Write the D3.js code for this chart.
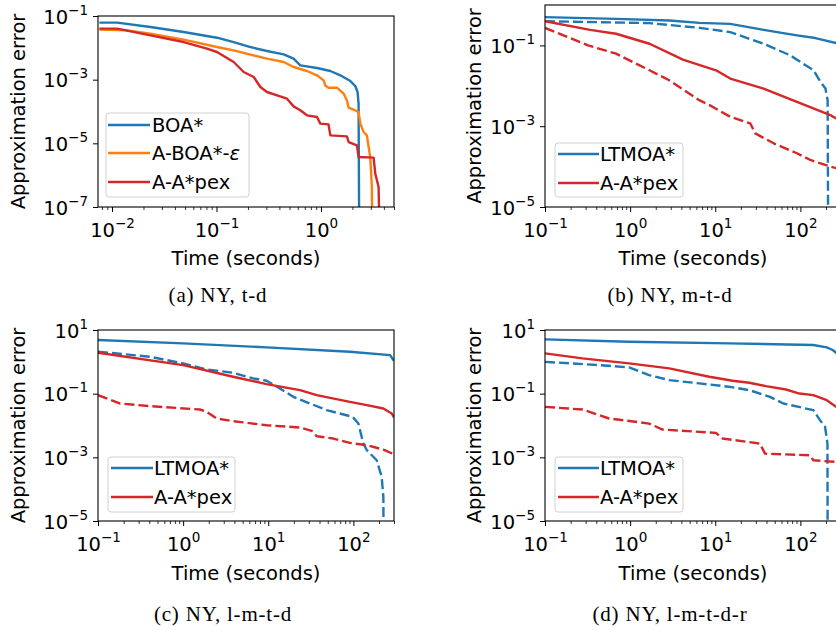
<!DOCTYPE html>
<html>
<head>
<meta charset="utf-8">
<script src="https://cdn.jsdelivr.net/npm/d3@7"></script>
<style>
  body { margin: 0; background: #fff; }
  svg text { font-family: "DejaVu Sans", sans-serif; }
  svg text.caption { font-family: "Liberation Serif", serif; }
</style>
</head>
<body>
<svg width="836" height="631"></svg>
<script>
// values: [time (s), approximation error]
// 1e-9 stands for "error reached zero" (the curve drops out of the plot)

// (a) NY, t-d
const tdBOA = [[0.00757,0.0618],[0.0112,0.0618],[0.0233,0.0451],[0.0485,0.0314],[0.101,0.0208],[0.146,0.0152],[0.211,0.0106],[0.304,0.00796],[0.44,0.00625],[0.547,0.00457],[0.634,0.00282],[0.916,0.00233],[1.23,0.00187],[1.53,0.00137],[1.91,0.00091],[2.13,0.00063],[2.24,0.00041],[2.29,0.000178],[2.33,1e-9]];
const tdABOAeps = [[0.00757,0.0372],[0.0139,0.0355],[0.0233,0.0279],[0.0485,0.0181],[0.101,0.0106],[0.146,0.00834],[0.211,0.0061],[0.304,0.00457],[0.44,0.00359],[0.547,0.0025],[0.734,0.00187],[0.916,0.00137],[1.06,0.00095],[1.10,0.00066],[1.18,0.00056],[1.42,0.00056],[1.65,0.000363],[1.77,0.000224],[1.84,0.000132],[2.05,0.000114],[2.29,0.0000964],[2.38,0.0000415],[2.56,0.0000227],[2.75,0.0000178],[2.86,7.7e-6],[2.96,3.7e-6],[3.07,4.3e-7],[3.12,1e-9]];
const tdAApex = [[0.00757,0.04],[0.0112,0.04],[0.0233,0.0247],[0.0485,0.0152],[0.0811,0.00942],[0.101,0.0074],[0.146,0.00359],[0.182,0.00174],[0.227,0.00121],[0.263,0.000589],[0.304,0.00041],[0.38,0.000322],[0.473,0.000253],[0.547,0.000145],[0.634,0.000109],[0.734,0.0000759],[0.916,0.0000672],[0.986,0.0000415],[1.18,0.0000395],[1.23,0.0000178],[1.77,0.0000166],[1.84,0.000011],[2.21,8.65e-6],[2.29,3.72e-6],[3.19,3.55e-6],[3.31,1.11e-6],[3.56,4.3e-7],[3.70,1e-9]];

// (b) NY, m-t-d  (solid and dashed runs)
const mtdLTMOA = [[0.1,0.5],[0.684,0.454],[2.9,0.413],[6.55,0.362],[15,0.342],[37,0.243],[91,0.177],[150,0.152],[263,0.114],[300,0.107]];
const mtdLTMOAdash = [[0.1,0.398],[1.69,0.356],[6.55,0.272],[15,0.213],[37,0.11],[76,0.0566],[143,0.0242],[172,0.0125],[197,0.00855],[209,0.0044],[215,1e-9]];
const mtdAApex = [[0.1,0.398],[0.339,0.243],[0.684,0.194],[1.69,0.11],[4.17,0.0444],[10.2,0.0242],[15,0.0151],[37,0.00855],[91,0.004],[225,0.00188],[263,0.00156],[300,0.0015]];
const mtdAApexDash = [[0.1,0.272],[0.32,0.1],[0.684,0.0624],[1.69,0.0242],[2.88,0.0137],[6.49,0.0044],[8.57,0.00332],[15,0.00171],[25.8,0.00117],[29.5,0.000665],[48.6,0.000377],[91,0.000214],[131,0.000146],[225,0.0001],[263,0.0000912],[300,0.000088]];

// (c) NY, l-m-t-d
const lmtdLTMOA = [[0.1,4.84],[1.0,3.8],[9.55,2.85],[91,2.08],[270,1.63],[295,1.14],[300,1.1]];
const lmtdLTMOAdash = [[0.1,2.08],[0.405,1.45],[1.0,0.893],[1.88,0.578],[3.87,0.454],[6.66,0.301],[9.55,0.254],[13.7,0.146],[19.7,0.0797],[30.9,0.0492],[48.5,0.0303],[97.8,0.0187],[114.5,0.0115],[131,0.0027],[144,0.00167],[188,0.00081],[215,0.000242],[225,0.0000566],[229,1e-9]];
const lmtdAApex = [[0.1,1.93],[1.0,0.79],[3.87,0.34],[9.55,0.2],[23.6,0.129],[37.1,0.09],[91,0.0555],[144,0.0436],[225,0.0342],[282,0.0238],[300,0.0178]];
const lmtdAApexDash = [[0.1,0.09],[0.18,0.0492],[0.405,0.0406],[1.57,0.0318],[1.88,0.0269],[2.47,0.0166],[3.87,0.0137],[9.55,0.0102],[23.6,0.00863],[32.4,0.00677],[37.1,0.0046],[58.2,0.00389],[91,0.00284],[144,0.0024],[225,0.00175],[300,0.00125]];

// (d) NY, l-m-t-d-r
const lmtdrLTMOA = [[0.1,5.08],[0.973,4.29],[14.9,3.8],[142,3.37],[204,2.85],[240,2.35],[263,1.93],[300,1.3]];
const lmtdrLTMOAdash = [[0.1,1.0],[0.431,0.79],[0.973,0.668],[1.67,0.383],[2.88,0.267],[6.49,0.21],[14.9,0.164],[25.1,0.129],[44,0.0797],[63,0.0492],[142,0.0303],[170,0.0147],[195,0.0091],[208,0.0027],[210,1e-9]];
const lmtdrAApex = [[0.1,1.84],[0.275,1.28],[0.973,0.894],[2.88,0.621],[8.5,0.34],[16,0.254],[25.1,0.22],[39.4,0.173],[67.8,0.135],[97.3,0.101],[142,0.09],[204,0.0625],[263,0.0386],[300,0.03]];
const lmtdrAApexDash = [[0.1,0.0386],[0.275,0.0318],[0.431,0.0211],[0.566,0.0166],[1.67,0.0115],[2.4,0.00746],[10.2,0.00586],[12.2,0.00389],[33.5,0.0027],[38.4,0.00131],[130,0.00116],[142,0.00081],[263,0.000716],[300,0.0007]];

// axis ticks and labels
const xTicksA = [0.01, 0.1, 1];
const xTicksBCD = [0.1, 1, 10, 100];
const yTicksA = [1e-7, 1e-5, 1e-3, 1e-1];
const yTicksB = [1e-5, 1e-3, 1e-1];
const yTicksCD = [1e-5, 1e-3, 1e-1, 10];
const xLabel = 'Time (seconds)';
const yLabel = 'Approximation error';
const captions = ['(a) NY, t-d', '(b) NY, m-t-d', '(c) NY, l-m-t-d', '(d) NY, l-m-t-d-r'];

const blue = '#1f77b4', orange = '#ff7f0e', red = '#d62728';

const panels = [
  { id: 'a', left: 98, top: 16, w: 296, h: 191, xdom: [0.00734, 5.0], ydom: [1e-7, 1e-1],
    xticks: xTicksA, yticks: yTicksA, ylabX: 18, xlabX: 246, xlabY: 258, capX: 218, capY: 295,
    series: [
      { data: tdBOA, color: blue, name: 'BOA*' },
      { data: tdABOAeps, color: orange, name: 'A-BOA*-', eps: true },
      { data: tdAApex, color: red, name: 'A-A*pex' }
    ],
    legend: { x: 106, y: 113, w: 143, h: 84, rows: [125, 153, 182], x0: 108, x1: 150, tx: 152 } },
  { id: 'b', left: 545, top: 5, w: 296, h: 202, xdom: [0.1, 300], ydom: [1e-5, 1],
    xticks: xTicksBCD, yticks: yTicksB, ylabX: 474, xlabX: 693, xlabY: 258, capX: 670, capY: 295,
    series: [
      { data: mtdLTMOA, color: blue, name: 'LTMOA*' },
      { data: mtdAApex, color: red, name: 'A-A*pex' },
      { data: mtdLTMOAdash, color: blue, dashed: true },
      { data: mtdAApexDash, color: red, dashed: true }
    ],
    legend: { x: 555, y: 143, w: 128, h: 54, rows: [154, 183], x0: 558, x1: 599, tx: 600 } },
  { id: 'c', left: 98, top: 330, w: 296, h: 191, xdom: [0.1, 300], ydom: [1e-5, 10],
    xticks: xTicksBCD, yticks: yTicksCD, ylabX: 18, xlabX: 246, xlabY: 573, capX: 223, capY: 614,
    series: [
      { data: lmtdLTMOA, color: blue, name: 'LTMOA*' },
      { data: lmtdAApex, color: red, name: 'A-A*pex' },
      { data: lmtdLTMOAdash, color: blue, dashed: true },
      { data: lmtdAApexDash, color: red, dashed: true }
    ],
    legend: { x: 108, y: 457, w: 127, h: 55, rows: [468, 497], x0: 111, x1: 153, tx: 154 } },
  { id: 'd', left: 545, top: 330, w: 296, h: 191, xdom: [0.1, 300], ydom: [1e-5, 10],
    xticks: xTicksBCD, yticks: yTicksCD, ylabX: 474, xlabX: 693, xlabY: 573, capX: 670, capY: 614,
    series: [
      { data: lmtdrLTMOA, color: blue, name: 'LTMOA*' },
      { data: lmtdrAApex, color: red, name: 'A-A*pex' },
      { data: lmtdrLTMOAdash, color: blue, dashed: true },
      { data: lmtdrAApexDash, color: red, dashed: true }
    ],
    legend: { x: 555, y: 457, w: 128, h: 55, rows: [468, 497], x0: 558, x1: 599, tx: 600 } }
];

const svg = d3.select('svg');
const fs = 19.5;

// "10" with a superscript exponent, like matplotlib's log formatter
function powLabel(text, v) {
  const e = Math.round(Math.log10(v));
  text.text(null);
  text.append('tspan').text('10');
  text.append('tspan').attr('dy', -9).attr('font-size', 13.5)
    .text(e < 0 ? '\u2212' + (-e) : String(e));
}

function minorTicks(dom) {
  const out = [];
  const lo = Math.floor(Math.log10(dom[0])), hi = Math.ceil(Math.log10(dom[1]));
  for (let d = lo; d <= hi; d++) {
    for (let k = 2; k <= 9; k++) {
      const v = k * Math.pow(10, d);
      if (v >= dom[0] && v <= dom[1]) out.push(v);
    }
  }
  return out;
}

panels.forEach((p, i) => {
  const x = d3.scaleLog().domain(p.xdom).range([p.left, p.left + p.w]);
  const y = d3.scaleLog().domain(p.ydom).range([p.top + p.h, p.top]);
  const g = svg.append('g');

  g.append('clipPath').attr('id', 'clip' + p.id)
    .append('rect').attr('x', p.left).attr('y', p.top).attr('width', p.w).attr('height', p.h);

  const line = d3.line().x(d => x(d[0])).y(d => y(d[1]));
  const plot = g.append('g').attr('clip-path', `url(#clip${p.id})`);
  // dashed runs are drawn under the solid ones
  const order = p.series.filter(s => s.dashed).concat(p.series.filter(s => !s.dashed));
  order.forEach(s => {
    plot.append('path').datum(s.data)
      .attr('d', line)
      .attr('fill', 'none')
      .attr('stroke', s.color)
      .attr('stroke-width', 2.4)
      .attr('stroke-linejoin', 'round')
      .attr('stroke-dasharray', s.dashed ? '10,4' : null);
  });

  // x axis: major and minor ticks
  const xAxis = g.append('g').attr('transform', `translate(0,${p.top + p.h})`)
    .call(d3.axisBottom(x).tickValues(p.xticks).tickSize(5).tickSizeOuter(0).tickPadding(0));
  xAxis.call(a => a.select('.domain').remove());
  xAxis.selectAll('.tick line').attr('stroke', '#000').attr('stroke-width', 1);
  xAxis.selectAll('.tick text')
    .attr('font-size', fs).attr('fill', '#000')
    .attr('y', 30).attr('dy', null)
    .each(function (d) { powLabel(d3.select(this), d); });
  g.append('g').attr('transform', `translate(0,${p.top + p.h})`)
    .call(d3.axisBottom(x).tickValues(minorTicks(p.xdom)).tickSize(3).tickSizeOuter(0).tickFormat(''))
    .call(a => a.select('.domain').remove())
    .selectAll('.tick line').attr('stroke', '#000').attr('stroke-width', 0.8);

  // y axis
  const yAxis = g.append('g').attr('transform', `translate(${p.left},0)`)
    .call(d3.axisLeft(y).tickValues(p.yticks).tickSize(5).tickSizeOuter(0).tickPadding(0));
  yAxis.call(a => a.select('.domain').remove());
  yAxis.selectAll('.tick line').attr('stroke', '#000').attr('stroke-width', 1);
  yAxis.selectAll('.tick text')
    .attr('font-size', fs).attr('fill', '#000')
    .attr('x', -10).attr('dy', null).attr('y', 7)
    .each(function (d) { powLabel(d3.select(this), d); });

  // frame
  g.append('rect').attr('x', p.left).attr('y', p.top).attr('width', p.w).attr('height', p.h)
    .attr('fill', 'none').attr('stroke', '#000').attr('stroke-width', 1.1);

  // axis labels
  g.append('text').attr('x', p.xlabX).attr('y', p.xlabY).attr('dy', '0.35em')
    .attr('text-anchor', 'middle').attr('font-size', fs).text(xLabel);
  g.append('text')
    .attr('transform', `translate(${p.ylabX},${p.top + p.h / 2}) rotate(-90)`)
    .attr('dy', '0.35em').attr('text-anchor', 'middle').attr('font-size', fs).text(yLabel);

  // legend (solid series only)
  const L = p.legend;
  const lg = g.append('g');
  lg.append('rect').attr('x', L.x).attr('y', L.y).attr('width', L.w).attr('height', L.h)
    .attr('rx', 3).attr('fill', 'white').attr('fill-opacity', 0.8)
    .attr('stroke', '#d0d0d0').attr('stroke-width', 1);
  p.series.filter(s => !s.dashed).forEach((s, k) => {
    const ry = L.rows[k];
    lg.append('line').attr('x1', L.x0).attr('x2', L.x1).attr('y1', ry).attr('y2', ry)
      .attr('stroke', s.color).attr('stroke-width', 2.4);
    const t = lg.append('text').attr('x', L.tx).attr('y', ry).attr('dy', '0.35em')
      .attr('font-size', fs);
    t.append('tspan').text(s.name);
    if (s.eps) t.append('tspan').attr('font-style', 'italic').text('\u03b5');
  });

  // caption
  g.append('text').attr('class', 'caption')
    .attr('x', p.capX).attr('y', p.capY).attr('dy', '0.35em')
    .attr('text-anchor', 'middle').attr('font-size', 21)
    .attr('letter-spacing', 0.8)
    .text(captions[i]);
});
</script>
</body>
</html>
